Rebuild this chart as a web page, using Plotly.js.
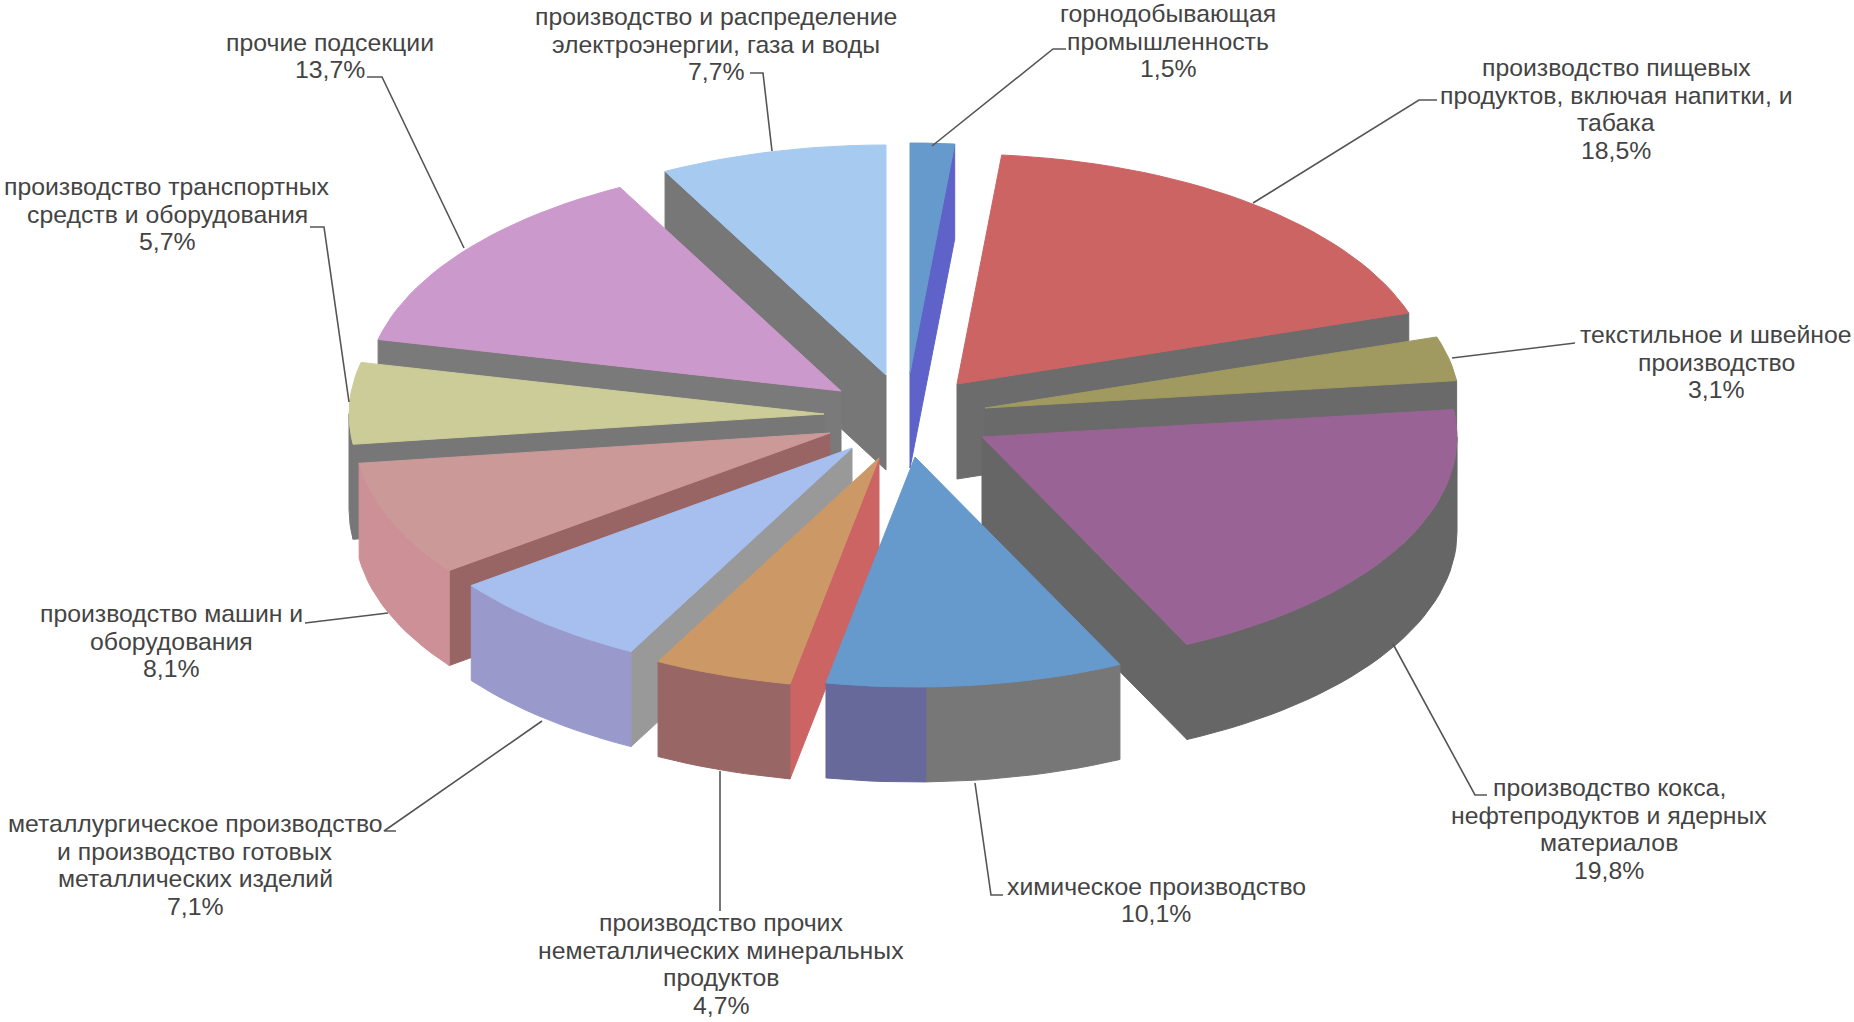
<!DOCTYPE html>
<html><head><meta charset="utf-8">
<script src="https://cdn.plot.ly/plotly-3.0.1.min.js"></script>
<style>html,body{margin:0;padding:0;background:#fff}#c{width:1854px;height:1022px}</style>
</head><body><div id="c"></div>
<script>
// ---- data ----
var categories = [
  "горнодобывающая<br>промышленность",
  "производство пищевых<br>продуктов, включая напитки, и<br>табака",
  "текстильное и швейное<br>производство",
  "производство кокса,<br>нефтепродуктов и ядерных<br>материалов",
  "химическое производство",
  "производство прочих<br>неметаллических минеральных<br>продуктов",
  "металлургическое производство<br>и производство готовых<br>металлических изделий",
  "производство машин и<br>оборудования",
  "производство транспортных<br>средств и оборудования",
  "прочие подсекции",
  "производство и распределение<br>электроэнергии, газа и воды"
];
var values = [1.5, 18.5, 3.1, 19.8, 10.1, 4.7, 7.1, 8.1, 5.7, 13.7, 7.7];

// ---- styling / geometry ----
var topColors  = ["#6699cc","#cc6464","#a09a60","#996495","#6699cc","#cc9966","#a6bfee","#cc9999","#cccc99","#cc99cc","#a6caf0"];
var faceColors = ["#5f62c8","#6c6c6c","#6a6a6a","#666666","#777777","#cc6464","#999999","#996464","#777777","#7a7a7a","#777777"];
var rimColors  = ["#5f62c8","#6c6c6c","#6a6a6a","#666666","#777777","#996666","#9999cc","#cc9096","#777777","#7a7a7a","#777777"];
var explodeX = [10, 57, 85, 82, 15, -21, -48, -70, -76, -59, -14];
var explodeY = [-37, -26, -2, 27, 47, 48, 38, 23, 4, -19, -35];
var drawOrder = [0, 1, 2, 3, 10, 9, 8, 7, 6, 5, 4];
var centerX = 900, centerY = 410, radiusX = 475, radiusY = 230, depth = 95;
var chemIndex = 4, chemRimSplit = 178.7, chemRimLeft = "#66699a";

var labelX = [1168, 1616, 1716, 1609, 1156, 721, 195, 171, 167, 330, 716];
var labelY = [41, 109, 362, 829, 900, 964, 865, 641, 214, 56, 44];
var lineStep = 27.8;
var leaderX = [[1066,1053,932],[1437,1419,1253],[1575,1452],[1487,1475,1393],[1003,991,975],[720,720],[396,384,542],[305,388],[310,324,349],[367,382,464],[750,763,772]];
var leaderY = [[49,49,146],[100,100,203],[343,358],[795,795,644],[895,895,783],[911,771],[831,831,721],[623,613],[227,227,402],[77,77,248],[73,73,151]];

// ---- build ----
var traces = [];
function rad(d){ return d * Math.PI / 180; }
function px(ax, a){ return ax + radiusX * Math.sin(rad(a)); }
function py(ay, a){ return ay - radiusY * Math.cos(rad(a)); }
function poly(xs, ys, color){
  traces.push({type:"scatter", mode:"lines", x:xs.concat([xs[0]]), y:ys.concat([ys[0]]), fill:"toself",
    fillcolor:color, line:{color:color, width:1}, hoverinfo:"skip", showlegend:false});
}
function arc(ax, ay, a0, a1){
  var xs = [], ys = [], n = Math.max(2, Math.ceil(Math.abs(a1 - a0) / 2));
  for (var i = 0; i <= n; i++){ var a = a0 + (a1 - a0) * i / n; xs.push(px(ax, a)); ys.push(py(ay, a)); }
  return {x:xs, y:ys};
}
function rim(ax, ay, a0, a1, color){
  if (a1 <= a0) return;
  var t = arc(ax, ay, a0, a1);
  var bx = t.x.slice().reverse();
  var by = t.y.slice().reverse().map(function(v){ return v + depth; });
  poly(t.x.concat(bx), t.y.concat(by), color);
}
var total = values.reduce(function(s, v){ return s + v; }, 0);
var starts = [], acc = 0;
values.forEach(function(v){ starts.push(acc / total * 360); acc += v; });

drawOrder.forEach(function(i){
  var a0 = starts[i], a1 = a0 + values[i] / total * 360;
  var ax = centerX + explodeX[i], ay = centerY + explodeY[i];
  var faceAngle = null;
  if (Math.sin(rad(a1)) > 0.001) faceAngle = a1;
  else if (Math.sin(rad(a0)) < -0.001) faceAngle = a0;
  if (faceAngle !== null){
    var rx = px(ax, faceAngle), ry = py(ay, faceAngle);
    poly([ax, rx, rx, ax], [ay, ry, ry + depth, ay + depth], faceColors[i]);
  }
  var r0 = Math.max(a0, 90), r1 = Math.min(a1, 270);
  if (i === chemIndex){
    rim(ax, ay, r0, chemRimSplit, rimColors[i]);
    rim(ax, ay, chemRimSplit, r1, chemRimLeft);
  } else {
    rim(ax, ay, r0, r1, rimColors[i]);
  }
  var t = arc(ax, ay, a0, a1);
  poly([ax].concat(t.x), [ay].concat(t.y), topColors[i]);
});

leaderX.forEach(function(xs, i){
  traces.push({type:"scatter", mode:"lines", x:xs, y:leaderY[i], line:{color:"#555555", width:1.6},
    hoverinfo:"skip", showlegend:false});
});

// each text line is placed on its own so the line pitch matches the larger type
var annotations = [];
categories.forEach(function(c, i){
  var lines = c.split("<br>").concat([values[i].toFixed(1).replace(".", ",") + "%"]);
  lines.forEach(function(line, k){
    annotations.push({x:labelX[i], y:labelY[i] + (k - (lines.length - 1) / 2) * lineStep,
      xref:"x", yref:"y", xanchor:"center", yanchor:"middle", align:"center", showarrow:false, text:line,
      font:{family:"Liberation Sans, Arial, sans-serif", size:24.8, color:"#444444"}});
  });
});

Plotly.newPlot("c", traces, {
  width:1854, height:1022, margin:{l:0,r:0,t:0,b:0,pad:0},
  paper_bgcolor:"#ffffff", plot_bgcolor:"#ffffff", showlegend:false,
  xaxis:{visible:false, range:[0,1854], fixedrange:true},
  yaxis:{visible:false, range:[1022,0], fixedrange:true},
  annotations:annotations
}, {displayModeBar:false, staticPlot:true});
</script>
</body></html>
